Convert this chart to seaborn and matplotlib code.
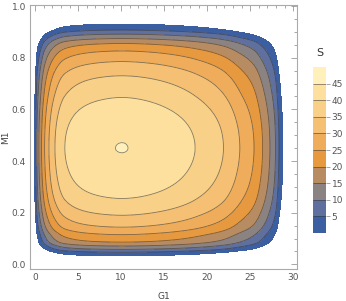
import numpy as np
import matplotlib
matplotlib.use("Agg")
import matplotlib.pyplot as plt
import seaborn as sns
from matplotlib.colors import ListedColormap, BoundaryNorm

# contour levels of S and where each one crosses the lines through the peak
levels_s = np.array([0, 5, 10, 15, 20, 25, 30, 35, 40, 45])
g1_left = np.array([-0.1, 0.06, 0.2, 0.43, 0.74, 1.1, 1.6, 2.3, 3.45, 9.34])
g1_right = np.array([28.8, 28.35, 27.95, 27.3, 26.45, 25.45, 23.8, 21.9, 18.6, 10.8])
m1_low = np.array([0.033, 0.047, 0.058, 0.071, 0.086, 0.115, 0.144, 0.19, 0.255, 0.432])
m1_high = np.array([0.93, 0.907, 0.891, 0.874, 0.855, 0.826, 0.785, 0.73, 0.646, 0.471])
s_peak = 45.05
g1_peak = 10.1
m1_peak = 0.45
corner_round = 0.4

band_colors = ["#3b5fa0", "#5f709f", "#8b8381", "#b78c63", "#e6993f",
               "#efad5b", "#f5c073", "#f9d088", "#fde09e", "#fff0bc"]
bounds = [0, 5, 10, 15, 20, 25, 30, 35, 40, 45, 50]


def pchip(t, x, y):
    h = np.diff(x)
    dl = np.diff(y) / h
    m = np.zeros_like(y)
    m[0], m[-1] = dl[0], dl[-1]
    for k in range(1, len(x) - 1):
        if dl[k - 1] * dl[k] > 0:
            w1 = 2 * h[k] + h[k - 1]
            w2 = h[k] + 2 * h[k - 1]
            m[k] = (w1 + w2) / (w1 / dl[k - 1] + w2 / dl[k])
    i = np.clip(np.searchsorted(x, t) - 1, 0, len(x) - 2)
    s = (t - x[i]) / h[i]
    h00 = 2 * s**3 - 3 * s**2 + 1
    h10 = s**3 - 2 * s**2 + s
    h01 = -2 * s**3 + 3 * s**2
    h11 = s**3 - s**2
    out = h00 * y[i] + h10 * h[i] * m[i] + h01 * y[i + 1] + h11 * h[i] * m[i + 1]
    out[t < x[0]] = -99
    out[t > x[-1]] = 99
    return out


def profile(t, lo, hi, peak):
    d = np.sqrt(s_peak - levels_s)
    xs = np.concatenate([lo, [peak], hi[::-1]])
    ds = np.concatenate([-d, [0.0], d[::-1]])
    dd = pchip(t, xs, ds)
    return s_peak - dd ** 2


g1 = np.linspace(-0.6, 30.45, 700)
m1 = np.linspace(-0.02, 1.005, 700)
G, M = np.meshgrid(g1, m1)
a = profile(G, g1_left, g1_right, g1_peak) / s_peak
b = profile(M, m1_low, m1_high, m1_peak) / s_peak
S = s_peak * (a * b - corner_round * (1 - a) * (1 - b))
S[(a < 0) | (b < 0)] = -1

sns.set_style("white")
plt.rcParams["font.family"] = ["DejaVu Sans"]

fig = plt.figure(figsize=(3.46, 3.01), dpi=100)
ax = fig.add_axes([30 / 346, 32 / 301, 267 / 346, 264 / 301])

cmap = ListedColormap(band_colors)
norm = BoundaryNorm(bounds, cmap.N)
cf = ax.contourf(G, M, S, levels=bounds, cmap=cmap, norm=norm)
cl = ax.contour(G, M, S, levels=bounds[1:-1], colors="#333333", linewidths=0.6, alpha=0.6)

ax.set_xlim(-0.6, 30.45)
ax.set_ylim(-0.018, 1.004)
ax.set_xticks(np.arange(0, 31, 5))
ax.set_xticks(np.arange(0, 31, 1), minor=True)
ax.set_yticks(np.arange(0, 1.01, 0.2))
ax.set_yticks(np.arange(0, 1.01, 0.05), minor=True)
ax.set_yticklabels(["0.0", "0.2", "0.4", "0.6", "0.8", "1.0"])
ax.tick_params(which="both", direction="in", top=True, right=True, color="#999999",
               labelsize=6.5, labelcolor="#555555", width=0.6, pad=3)
ax.tick_params(which="major", length=4)
ax.tick_params(which="minor", length=2)
for sp in ax.spines.values():
    sp.set_color("#aaaaaa")
    sp.set_linewidth(0.8)
ax.set_xlabel("G1", fontsize=6.5, color="#444444", labelpad=7)
ax.set_ylabel("M1", fontsize=6.5, color="#444444")
ax.yaxis.set_label_coords(-0.075, 0.5)

cax = fig.add_axes([313 / 346, 68 / 301, 13 / 346, 166 / 301])
cbar = fig.colorbar(cf, cax=cax, ticks=bounds[1:-1])
cbar.add_lines(cl)
cbar.minorticks_off()
cbar.outline.set_visible(False)
cax.tick_params(length=3, width=0.6, color="#999999", labelsize=6.5, labelcolor="#555555", pad=1)
cax.set_title("S", fontsize=8, color="#333333", pad=8)

fig.savefig("out.png", dpi=100)
